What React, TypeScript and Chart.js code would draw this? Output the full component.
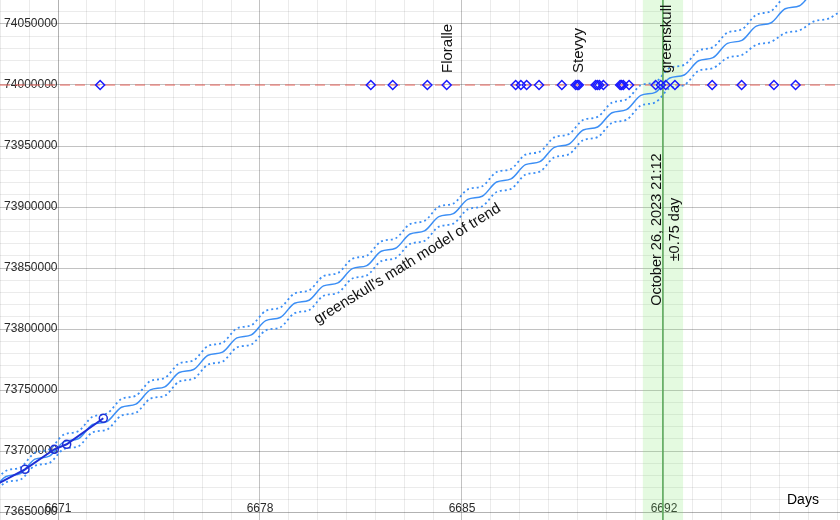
import { useEffect, useRef } from 'react';
import { Chart, registerables } from 'chart.js';

Chart.register(...registerables);

const FONT = "'Liberation Sans', Arial, Helvetica, sans-serif";

// ---- axis ranges / ticks ----
const xRange = [6668.99, 6698.1];
const yRange = [73643443, 74069672];
const xGridStep = 1;
const yGridStep = 10000;
const xTickLabels = [6671, 6678, 6685, 6692];
const yTickLabels = [73650000, 73700000, 73750000, 73800000, 73850000, 73900000, 73950000, 74000000, 74050000];
const axisDay = 6671;
const axisValue = 73650000;

// ---- trend model (at half-day steps) ----
const trendDays = [
  6668.7, 6669.2, 6669.7, 6670.2, 6670.7, 6671.2, 6671.7, 6672.2, 6672.7, 6673.2,
  6673.7, 6674.2, 6674.7, 6675.2, 6675.7, 6676.2, 6676.7, 6677.2, 6677.7, 6678.2,
  6678.7, 6679.2, 6679.7, 6680.2, 6680.7, 6681.2, 6681.7, 6682.2, 6682.7, 6683.2,
  6683.7, 6684.2, 6684.7, 6685.2, 6685.7, 6686.2, 6686.7, 6687.2, 6687.7, 6688.2,
  6688.7, 6689.2, 6689.7, 6690.2, 6690.7, 6691.2, 6691.7, 6692.2, 6692.7, 6693.2,
  6693.7, 6694.2, 6694.7, 6695.2, 6695.7, 6696.2, 6696.7, 6697.2, 6697.7, 6698.2,
];
const trendCenter = [
  73667400, 73679100, 73681600, 73693300, 73695800, 73707500, 73710000, 73721700, 73724200, 73735900,
  73738400, 73750100, 73752600, 73764300, 73766800, 73778500, 73781000, 73792700, 73795200, 73806900,
  73809400, 73821100, 73823600, 73835300, 73837800, 73849500, 73852000, 73863700, 73866200, 73877900,
  73880400, 73892100, 73894600, 73906300, 73908800, 73920500, 73923000, 73934700, 73937200, 73948900,
  73951400, 73963100, 73965600, 73977300, 73979800, 73991500, 73994000, 74005700, 74008200, 74019900,
  74022400, 74034100, 74036600, 74048300, 74050800, 74062500, 74065000, 74076700, 74079200, 74090900,
];
const trendUpper = [
  73671700, 73683800, 73686600, 73698600, 73701400, 73713400, 73716200, 73728100, 73730800, 73742700,
  73745400, 73757300, 73759900, 73771700, 73774300, 73786100, 73788700, 73800500, 73803100, 73814900,
  73817500, 73829200, 73831700, 73843400, 73845900, 73857600, 73860100, 73871800, 73874300, 73886000,
  73888600, 73900300, 73902800, 73914500, 73917000, 73928700, 73931200, 73942900, 73945400, 73957100,
  73959700, 73971400, 73973900, 73985600, 73988100, 73999800, 74002300, 74014000, 74016500, 74028200,
  74031000, 74042900, 74045600, 74057600, 74060400, 74072400, 74075200, 74087200, 74090000, 74102000,
];
const trendLower = [
  73663100, 73674400, 73676600, 73688000, 73690200, 73701600, 73703800, 73715300, 73717600, 73729100,
  73731400, 73742900, 73745300, 73756900, 73759300, 73770900, 73773300, 73784900, 73787300, 73798900,
  73801300, 73813000, 73815500, 73827200, 73829700, 73841400, 73843900, 73855600, 73858100, 73869800,
  73872200, 73883900, 73886400, 73898100, 73900600, 73912300, 73914800, 73926500, 73929000, 73940700,
  73943100, 73954800, 73957300, 73969000, 73971500, 73983200, 73985700, 73997400, 73999900, 74011600,
  74013800, 74022300, 74024600, 74033000, 74035200, 74042600, 74044800, 74052200, 74054400, 74061800,
];

// ---- observed counts ----
const observedDays = [6668.5, 6669.856, 6670.872, 6671.301, 6672.57];
const observedValues = [73667800, 73685000, 73701400, 73705500, 73726800];

// ---- 74M milestone markers ----
const markerLevel = 74000000;
const markerDays = [
  6672.46, 6681.84, 6682.6, 6683.8, 6684.47, 6686.86, 6687.04, 6687.24, 6687.67, 6688.46,
  6688.94, 6689.0, 6689.05, 6689.63, 6689.69, 6689.76, 6689.9, 6690.48, 6690.53, 6690.59,
  6690.79, 6691.71, 6691.89, 6692.06, 6692.38, 6693.67, 6694.69, 6695.81, 6696.56,
];
const nameLabels = ['Floralle', 'Stevyy', 'greenskull'];
const nameDays = [6684.47, 6689.0, 6692.06];

// ---- prediction ----
const predictionDay = 6691.96;
const predictionBand = [6691.26, 6692.67];
const predictionText = ['October 26, 2023 21:12', '\u00B10.75 day'];
const modelLabel = "greenskull's math model of trend";
const xTitle = 'Days';

const MINOR = 'rgba(0,0,0,0.08)';
const MAJOR = 'rgba(0,0,0,0.24)';
const AXIS = 'rgba(0,0,0,0.3)';
const TREND = '#3b8ef5';

const pts = (xs: number[], ys: number[]) => xs.map((x, i) => ({ x, y: ys[i] }));

const gridTicks = (step: number) => (scale: any) => {
  const out: { value: number }[] = [];
  for (let k = Math.ceil(scale.min / step); k * step <= scale.max; k++) out.push({ value: k * step });
  scale.ticks = out;
};

export default function App() {
  const ref = useRef<HTMLCanvasElement>(null);

  useEffect(() => {
    const canvas = ref.current!;

    const labelsPlugin = {
      id: 'desmosLabels',
      beforeDatasetsDraw(chart: any) {
        const { ctx, chartArea } = chart;
        const xs = chart.scales.x;
        const ys = chart.scales.y;
        const ax = xs.getPixelForValue(axisDay);
        const ay = ys.getPixelForValue(axisValue);
        ctx.save();
        ctx.fillStyle = '#2a2a2a';
        ctx.font = `12px ${FONT}`;
        ctx.textAlign = 'right';
        ctx.textBaseline = 'middle';
        for (const v of yTickLabels) {
          const y = Math.min(ys.getPixelForValue(v), chartArea.bottom - 5);
          ctx.fillText(String(v), ax - 0.5, y);
        }
        ctx.textAlign = 'center';
        ctx.textBaseline = 'alphabetic';
        for (const v of xTickLabels) {
          ctx.fillText(String(v), xs.getPixelForValue(v), ay - 0.5);
        }
        ctx.restore();
      },
      afterDatasetsDraw(chart: any) {
        const { ctx, chartArea } = chart;
        const xs = chart.scales.x;
        const ys = chart.scales.y;
        ctx.save();
        ctx.fillStyle = '#111';
        ctx.font = `15px ${FONT}`;
        ctx.textAlign = 'left';
        ctx.textBaseline = 'alphabetic';
        const my = ys.getPixelForValue(markerLevel);
        nameLabels.forEach((name, i) => {
          const px = xs.getPixelForValue(nameDays[i]);
          ctx.save();
          ctx.translate(px + 5.5, my - 12);
          ctx.rotate(-Math.PI / 2);
          ctx.fillText(name, 0, 0);
          ctx.restore();
        });

        // prediction label
        const vx = xs.getPixelForValue(predictionDay);
        const vy = ys.getPixelForValue(73881500);
        ctx.save();
        ctx.translate(vx, vy);
        ctx.rotate(-Math.PI / 2);
        ctx.textAlign = 'center';
        ctx.font = `14.5px ${FONT}`;
        ctx.fillText(predictionText[0], 0, -2.1);
        ctx.fillText(predictionText[1], 0, 15.7);
        ctx.restore();

        // model label
        const lx = xs.getPixelForValue(6683.11);
        const ly = ys.getPixelForValue(73853300);
        ctx.save();
        ctx.translate(lx, ly);
        ctx.rotate((-31.7 * Math.PI) / 180);
        ctx.textAlign = 'center';
        ctx.textBaseline = 'middle';
        ctx.font = `15px ${FONT}`;
        ctx.fillText(modelLabel, 0, 0);
        ctx.restore();

        // axis title
        ctx.font = `14px ${FONT}`;
        ctx.textAlign = 'left';
        ctx.textBaseline = 'alphabetic';
        ctx.fillStyle = '#000';
        ctx.fillText(xTitle, chartArea.right - 53, chartArea.bottom - 16.5);
        ctx.restore();
      },
    };

    const gridX = (c: any) => {
      const v = c.tick?.value;
      if (v == null) return 'rgba(0,0,0,0)';
      const r = Math.round(v);
      if (r === axisDay) return AXIS;
      return (r - axisDay) % 7 === 0 ? MAJOR : MINOR;
    };
    const gridY = (c: any) => {
      const v = c.tick?.value;
      if (v == null) return 'rgba(0,0,0,0)';
      const k = Math.round(v / 10000);
      if (Math.abs(v - axisValue) < 1) return AXIS;
      return k % 5 === 0 ? MAJOR : MINOR;
    };

    const chart = new Chart(canvas, {
      type: 'line',
      data: {
        datasets: [
          {
            label: 'milestones',
            data: pts(markerDays, markerDays.map(() => markerLevel)),
            showLine: false,
            pointStyle: 'rectRot',
            pointRadius: 4.5,
            pointBorderWidth: 1.5,
            pointBorderColor: '#1a1aff',
            pointBackgroundColor: 'rgba(255,255,255,0)',
          },
          {
            label: 'observed',
            data: pts(observedDays, observedValues),
            borderColor: '#1f2fd6',
            borderWidth: 2,
            tension: 0,
            pointStyle: 'circle',
            pointRadius: 4,
            pointBorderWidth: 1.5,
            pointBorderColor: '#1f2fd6',
            pointBackgroundColor: 'rgba(255,255,255,0)',
          },
          {
            label: 'prediction',
            data: [
              { x: predictionDay, y: yRange[0] },
              { x: predictionDay, y: yRange[1] },
            ],
            borderColor: '#5fae5f',
            borderWidth: 1.5,
            pointRadius: 0,
            tension: 0,
          },
          {
            label: 'trend',
            data: pts(trendDays, trendCenter),
            borderColor: TREND,
            borderWidth: 1.5,
            pointRadius: 0,
            cubicInterpolationMode: 'monotone',
          },
          {
            label: 'upper',
            data: pts(trendDays, trendUpper),
            borderColor: TREND,
            borderWidth: 1.8,
            borderDash: [2, 3],
            pointRadius: 0,
            cubicInterpolationMode: 'monotone',
          },
          {
            label: 'lower',
            data: pts(trendDays, trendLower),
            borderColor: TREND,
            borderWidth: 1.8,
            borderDash: [2, 3],
            pointRadius: 0,
            cubicInterpolationMode: 'monotone',
          },
          {
            label: 'threshold',
            data: [
              { x: xRange[0], y: markerLevel },
              { x: xRange[1], y: markerLevel },
            ],
            borderColor: '#e8625a',
            borderWidth: 1.2,
            borderDash: [10, 5],
            pointRadius: 0,
            tension: 0,
          },
          {
            label: 'band',
            data: [
              { x: predictionBand[0], y: yRange[1] },
              { x: predictionBand[1], y: yRange[1] },
            ],
            borderWidth: 0,
            borderColor: 'rgba(0,0,0,0)',
            backgroundColor: 'rgba(120,230,100,0.2)',
            fill: 'start',
            pointRadius: 0,
            tension: 0,
          },
        ] as any,
      },
      options: {
        animation: false,
        responsive: false,
        devicePixelRatio: 1,
        events: [],
        layout: { padding: 0, autoPadding: false },
        plugins: {
          legend: { display: false },
          tooltip: { enabled: false },
        },
        scales: {
          x: {
            type: 'linear',
            min: xRange[0],
            max: xRange[1],
            afterBuildTicks: gridTicks(xGridStep),
            ticks: { display: false },
            grid: { color: gridX, lineWidth: 1, drawTicks: false },
            border: { display: false },
          },
          y: {
            type: 'linear',
            min: yRange[0],
            max: yRange[1],
            afterBuildTicks: gridTicks(yGridStep),
            ticks: { display: false },
            grid: { color: gridY, lineWidth: 1, drawTicks: false },
            border: { display: false },
          },
        },
      } as any,
      plugins: [labelsPlugin],
    });
    return () => chart.destroy();
  }, []);

  return (
    <div style={{ position: 'fixed', left: 0, top: 0, width: 840, height: 520, background: '#fff' }}>
      <canvas ref={ref} width={840} height={520} style={{ display: 'block', width: 840, height: 520 }} />
    </div>
  );
}
